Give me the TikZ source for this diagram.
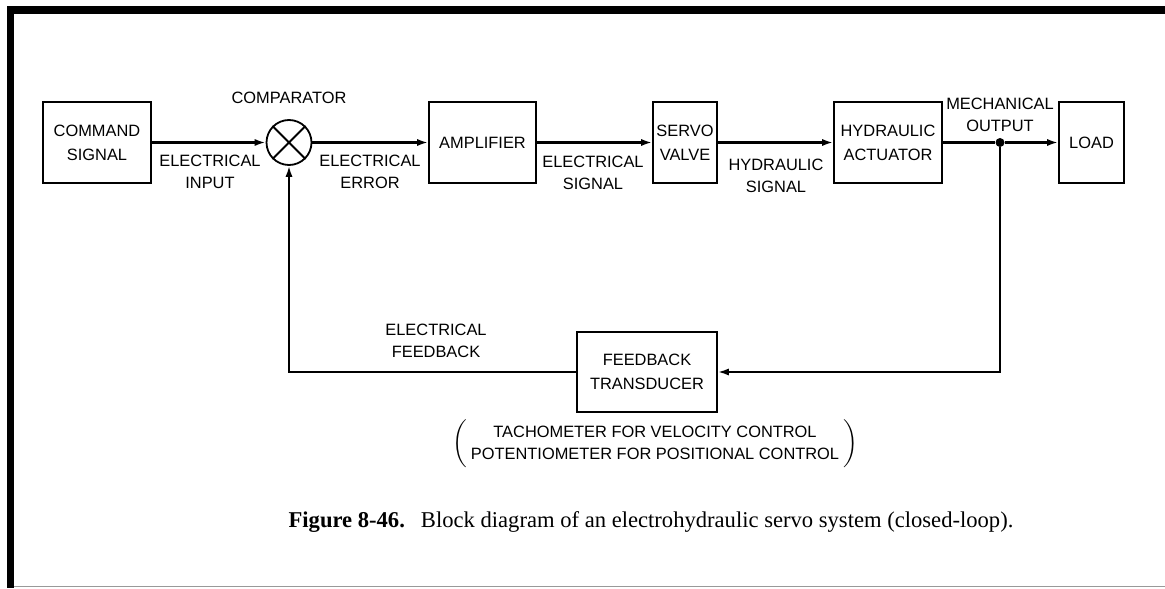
\documentclass[tikz,border=0pt]{standalone}
\usepackage{fontspec}
\newfontfamily\diagsans{Liberation Sans}
\newfontfamily\diagserif{Liberation Serif}
\usetikzlibrary{arrows.meta,positioning}

\newcommand{\boxfont}{\diagsans\fontsize{8.2}{12}\selectfont}
\newcommand{\lblfont}{\diagsans\fontsize{8.2}{11}\selectfont}

\begin{document}
\begin{tikzpicture}[
    x=0.5pt, y=-0.5pt,
    % --- Node styles ---
    block/.style={draw, line width=0.9pt, minimum height=40.5pt, inner sep=1pt,
                  align=center, font=\boxfont},
    comparator/.style={draw, circle, line width=0.9pt, minimum size=22.5pt, inner sep=0pt},
    lbl/.style={align=center, font=\lblfont, inner sep=0pt},
    junction/.style={fill, circle, minimum size=4.5pt, inner sep=0pt},
    % --- Edge styles ---
    signal/.style={-{Latex[length=5.5pt,width=3.6pt]}, line width=1.3pt},
    feedback/.style={-{Latex[length=5.5pt,width=3.6pt]}, line width=1pt},
]
\useasboundingbox (0,0) rectangle (1165,588);

% === Page frame ===
\fill (7,6) rectangle (1165,14);
\fill (7,6) rectangle (14,588);
\draw[black!40, line width=0.8pt] (14,586.5) -- (1165,586.5);

% === Forward path ===
\node[block, minimum width=54pt] (cmd) at (97,142.5) {COMMAND\\SIGNAL};
\node[comparator] (comp) at (289,142.5) {};
\draw[line width=0.9pt] (comp.45) -- (comp.225) (comp.135) -- (comp.-45);
\node[block, minimum width=53.5pt] (amp) at (482.5,142.5) {AMPLIFIER};
\node[block, minimum width=32pt] (valve) at (685,142.5) {SERVO\\VALVE};
\node[block, minimum width=54pt] (act) at (888,142.5) {HYDRAULIC\\ACTUATOR};
\node[junction] (jn) at (1000,142.5) {};
\node[block, minimum width=32.5pt] (load) at (1091.5,142.5) {LOAD};

% === Feedback path ===
\node[block, minimum width=70pt, minimum height=40pt] (fbt) at (647,372) {FEEDBACK\\TRANSDUCER};

% --- Connectors ---
\draw[signal] (cmd) -- (comp);
\draw[signal] (comp) -- (amp);
\draw[signal] (amp) -- (valve);
\draw[signal] (valve) -- (act);
\draw[line width=1.3pt] (act) -- (jn);
\draw[signal] (jn) -- (load);
\draw[feedback] (jn) |- (fbt);
\draw[feedback] (fbt) -| (comp);

% --- Labels ---
\node[lbl, above=7.5pt of comp] (lcomp) {COMPARATOR};
\node[lbl] (lin) at (210,172) {ELECTRICAL\\INPUT};
\node[lbl] (lerr) at (370,172) {ELECTRICAL\\ERROR};
\node[lbl] (lsig) at (593,173) {ELECTRICAL\\SIGNAL};
\node[lbl] (lhyd) at (776,176) {HYDRAULIC\\SIGNAL};
\node[lbl] (lmech) at (1000,115) {MECHANICAL\\OUTPUT};
\node[lbl] (lfb) at (436,341) {ELECTRICAL\\FEEDBACK};
\node[lbl] (note) at (655,444)
  {$\left(\vcenter{\hbox{\lblfont\begin{tabular}{@{\hspace{2pt}}c@{\hspace{2pt}}}
    TACHOMETER FOR VELOCITY CONTROL\\
    POTENTIOMETER FOR POSITIONAL CONTROL\end{tabular}}}\right)$};

% --- Caption ---
\node[font=\diagserif\fontsize{11.3}{13}\selectfont, inner sep=0pt, anchor=base]
  (caption) at (651,527)
  {\textbf{Figure 8-46.}\hspace{8pt}Block diagram of an electrohydraulic servo system (closed-loop).};

\end{tikzpicture}
\end{document}
